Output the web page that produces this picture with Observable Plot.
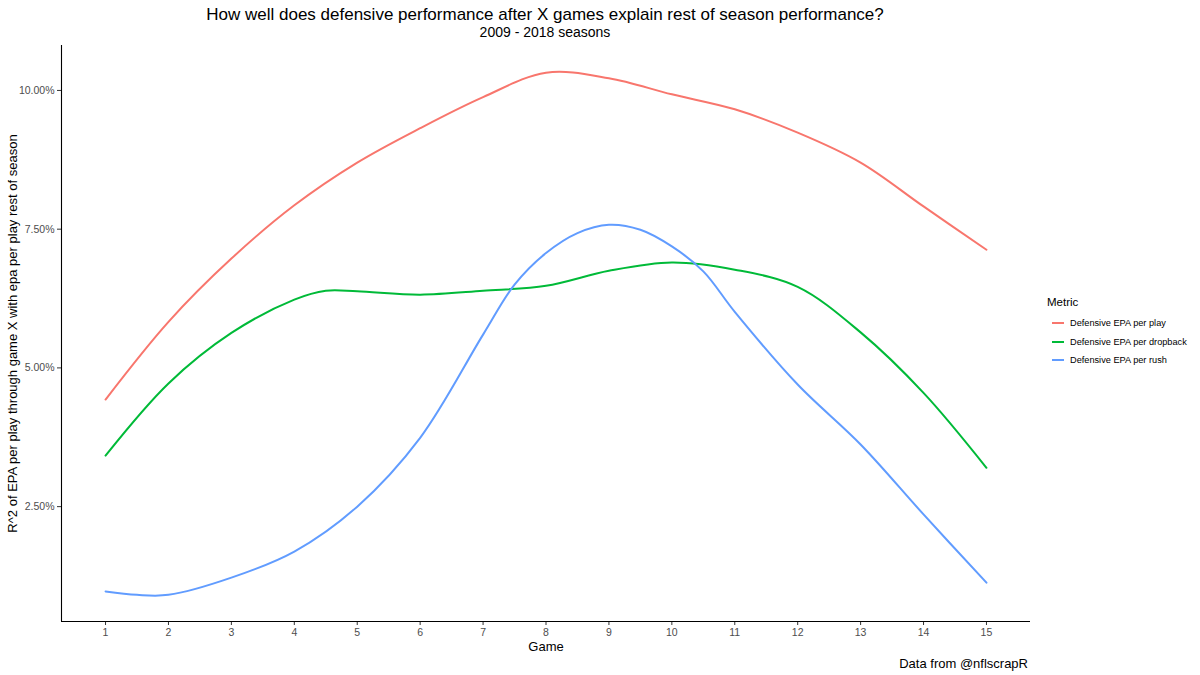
<!DOCTYPE html>
<html>
<head>
<meta charset="utf-8">
<script src="https://cdn.jsdelivr.net/npm/d3@7"></script>
<script src="https://cdn.jsdelivr.net/npm/@observablehq/plot@0.6"></script>
<style>
  html, body { margin: 0; padding: 0; background: #fff; }
  body { width: 1200px; height: 675px; overflow: hidden; font-family: "Liberation Sans", Arial, Helvetica, sans-serif; }
  #wrap { position: relative; width: 1200px; height: 675px; }
  #head { height: 42px; position: relative; }
  #title { position: absolute; left: 0; width: 1090px; top: 5px; text-align: center; font-size: 17px; color: #000; }
  #subtitle { position: absolute; left: 0; width: 1090px; top: 24px; text-align: center; font-size: 14px; color: #000; }
  #caption { height: 21px; position: relative; }
  #caption span { position: absolute; right: 172px; top: 2px; font-size: 13px; color: #000; }
  #legend { position: absolute; left: 1047px; top: 296px; font-size: 9.2px; color: #000; }
  #legend .ttl { font-size: 11.5px; margin-bottom: 6px; }
  #legend .item { display: flex; align-items: center; height: 18.5px; }
  #legend .key { width: 12px; height: 2px; margin-left: 5px; margin-right: 6px; }
  svg g[aria-label$="tick label"] { fill: #4d4d4d; }
</style>
</head>
<body>
<div id="wrap">
  <div id="head">
    <div id="title">How well does defensive performance after X games explain rest of season performance?</div>
    <div id="subtitle">2009 - 2018 seasons</div>
  </div>
  <div id="chart"></div>
  <div id="caption"><span>Data from @nflscrapR</span></div>
  <div id="legend"></div>
</div>
<script>
// ---- data (R^2 in percent) ----
const metrics = ["Defensive EPA per play", "Defensive EPA per dropback", "Defensive EPA per rush"];
const colors = ["#F8766D", "#00BA38", "#619CFF"];
const xTicks = [1,2,3,4,5,6,7,8,9,10,11,12,13,14,15];
const yTicks = [2.5, 5, 7.5, 10];

const playGames  = [1,2,3,4,5,6,7,8,9,10,11,12,13,14,15];
const playValues = [4.43,5.83,6.97,7.93,8.70,9.32,9.88,10.32,10.22,9.93,9.66,9.24,8.70,7.91,7.13];

const dropbackGames  = [1,2,3,4,4.5,5,6,7,8,9,10,11,12,13,14,15];
const dropbackValues = [3.42,4.72,5.63,6.23,6.39,6.38,6.32,6.39,6.48,6.75,6.90,6.77,6.46,5.64,4.55,3.20];

const rushGames  = [1,1.5,2,3,4,5,6,7,7.5,8,8.5,9,9.5,10,10.5,11,12,13,14,15];
const rushValues = [0.97,0.91,0.91,1.22,1.69,2.50,3.74,5.60,6.50,7.07,7.43,7.58,7.49,7.19,6.74,6.01,4.70,3.62,2.36,1.13];

const seriesGames = [playGames, dropbackGames, rushGames];
const seriesValues = [playValues, dropbackValues, rushValues];

const rows = [];
metrics.forEach((m, i) => {
  seriesGames[i].forEach((g, j) => rows.push({metric: m, game: g, value: seriesValues[i][j]}));
});

const xDomain = [0.3, 15.7];
const yDomain = [0.43, 10.81];
const font = '"Liberation Sans", Arial, Helvetica, sans-serif';

const chart = Plot.plot({
  width: 1200,
  height: 612,
  marginLeft: 61,
  marginRight: 170,
  marginTop: 3,
  marginBottom: 33,
  style: {fontFamily: font, background: "#fff", overflow: "visible"},
  x: {domain: xDomain},
  y: {domain: yDomain},
  color: {domain: metrics, range: colors},
  marks: [
    Plot.axisX({ticks: xTicks, tickFormat: d => String(d), tickSize: 4, tickPadding: 3, fontSize: 10.5, stroke: "#333", label: null}),
    Plot.axisY({ticks: yTicks, tickFormat: d => d.toFixed(2) + "%", tickSize: 4, tickPadding: 3, fontSize: 10.5, stroke: "#333", label: null}),
    Plot.ruleX([xDomain[0]], {stroke: "#000", strokeWidth: 1.1}),
    Plot.ruleY([yDomain[0]], {stroke: "#000", strokeWidth: 1.1}),
    Plot.line(rows, {x: "game", y: "value", z: "metric", stroke: "metric", strokeWidth: 2, curve: "catmull-rom"}),
    Plot.text(["Game"], {frameAnchor: "bottom", lineAnchor: "middle", dy: 25, fontSize: 13, fill: "#000"}),
    Plot.text(["R^2 of EPA per play through game X with epa per play rest of season"], {frameAnchor: "left", textAnchor: "middle", lineAnchor: "middle", dx: -49, rotate: -90, fontSize: 13, fill: "#000"})
  ]
});
document.getElementById("chart").appendChild(chart);

// legend
const leg = document.getElementById("legend");
const t = document.createElement("div");
t.className = "ttl";
t.textContent = "Metric";
leg.appendChild(t);
metrics.forEach((m, i) => {
  const it = document.createElement("div");
  it.className = "item";
  const k = document.createElement("span");
  k.className = "key";
  k.style.background = colors[i];
  const s = document.createElement("span");
  s.textContent = m;
  it.appendChild(k); it.appendChild(s);
  leg.appendChild(it);
});
</script>
</body>
</html>
